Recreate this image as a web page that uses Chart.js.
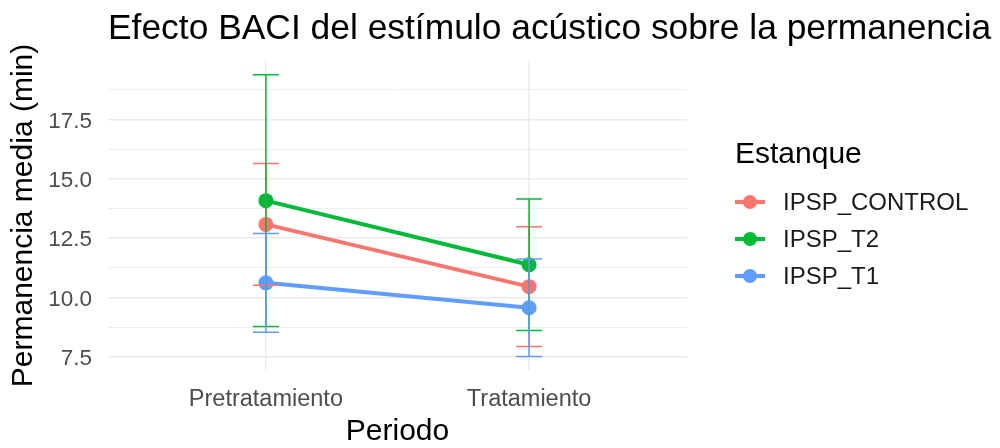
<!DOCTYPE html>
<html>
<head>
<meta charset="utf-8">
<script src="https://cdn.jsdelivr.net/npm/chart.js@4.4.0/dist/chart.umd.min.js"></script>
<style>
  body { margin: 0; background: #fff; }
  canvas { display: block; }
</style>
</head>
<body>
<canvas id="myChart" width="1000" height="448"></canvas>
<script>
// Datos
const periodos = ['Pretratamiento', 'Tratamiento'];
const estanques = ['IPSP_CONTROL', 'IPSP_T2', 'IPSP_T1'];
const mediaControl = [13.08, 10.46];
const mediaT2 = [14.08, 11.38];
const mediaT1 = [10.62, 9.57];
const errorControl = [2.56, 2.52];
const errorT2 = [5.30, 2.77];
const errorT1 = [2.08, 2.05];
const yMayores = [7.5, 10, 12.5, 15, 17.5];
const yMenores = [8.75, 11.25, 13.75, 16.25, 18.75];

const colores = ['#F8766D', '#00BA38', '#619CFF'];
const medias = [mediaControl, mediaT2, mediaT1];
const errores = [errorControl, errorT2, errorT1];
const titulo = 'Efecto BACI del estímulo acústico sobre la permanencia';
const FUENTE = '"Liberation Sans", Arial, sans-serif';

Chart.defaults.font.family = FUENTE;
Chart.defaults.animation = false;

// Barras de error (media ± error)
const barrasError = {
    id: 'barrasError',
    afterDatasetsDraw(chart) {
        const ctx = chart.ctx;
        const xs = chart.scales.x, ys = chart.scales.y;
        ctx.save();
        ctx.lineWidth = 1.5;
        medias.forEach((serie, d) => {
            ctx.strokeStyle = colores[d];
            serie.forEach((m, i) => {
                const x = xs.getPixelForValue(i + 1);
                const y1 = ys.getPixelForValue(m + errores[d][i]);
                const y0 = ys.getPixelForValue(m - errores[d][i]);
                ctx.beginPath();
                ctx.moveTo(x, y1); ctx.lineTo(x, y0);
                ctx.moveTo(x - 13, y1); ctx.lineTo(x + 13, y1);
                ctx.moveTo(x - 13, y0); ctx.lineTo(x + 13, y0);
                ctx.stroke();
            });
        });
        ctx.restore();
    }
};

// Título y leyenda
const textos = {
    id: 'textos',
    afterDraw(chart) {
        const ctx = chart.ctx;
        ctx.save();
        ctx.fillStyle = '#000';
        ctx.textBaseline = 'alphabetic';
        ctx.textAlign = 'left';
        ctx.font = '35.4px ' + FUENTE;
        ctx.fillText(titulo, 108, 39);

        ctx.font = '30px ' + FUENTE;
        ctx.fillText('Estanque', 735, 163);

        ctx.font = '24px ' + FUENTE;
        ctx.textBaseline = 'middle';
        estanques.forEach((nombre, i) => {
            const y = 202 + i * 37;
            ctx.strokeStyle = colores[i];
            ctx.fillStyle = colores[i];
            ctx.lineWidth = 4;
            ctx.beginPath();
            ctx.moveTo(735, y); ctx.lineTo(765, y);
            ctx.stroke();
            ctx.beginPath();
            ctx.arc(750, y, 7, 0, Math.PI * 2);
            ctx.fill();
            ctx.fillStyle = '#1A1A1A';
            ctx.fillText(nombre, 783, y + 1);
        });
        ctx.restore();
    }
};

const ctx = document.getElementById('myChart').getContext('2d');
new Chart(ctx, {
    type: 'line',
    data: {
        datasets: estanques.map((nombre, d) => ({
            label: nombre,
            data: medias[d].map((v, i) => ({ x: i + 1, y: v })),
            borderColor: colores[d],
            backgroundColor: colores[d],
            pointBackgroundColor: colores[d],
            borderWidth: 4,
            pointRadius: 7.5,
            pointBorderWidth: 0,
            tension: 0,
            order: -d
        }))
    },
    options: {
        responsive: false,
        layout: { padding: { top: 61, right: 313, left: 0, bottom: 0 } },
        plugins: { legend: { display: false }, tooltip: { enabled: false } },
        scales: {
            x: {
                type: 'linear',
                min: 0.4,
                max: 2.6,
                afterBuildTicks: s => { s.ticks = periodos.map((p, i) => ({ value: i + 1 })); },
                afterFit: s => { s.height = 78; },
                ticks: {
                    callback: v => periodos[v - 1],
                    font: { size: 23.5 },
                    color: '#4D4D4D',
                    padding: 15,
                    maxRotation: 0,
                    autoSkip: false
                },
                grid: { color: '#EBEBEB', lineWidth: 1.4, drawTicks: false },
                border: { display: false },
                title: {
                    display: true,
                    text: 'Periodo',
                    font: { size: 30 },
                    color: '#000',
                    padding: { top: 0, bottom: -2 }
                }
            },
            y: {
                min: 6.95,
                max: 19.96,
                afterBuildTicks: s => {
                    s.ticks = yMayores.concat(yMenores).sort((a, b) => a - b).map(v => ({ value: v }));
                },
                afterFit: s => { s.width = 108; },
                ticks: {
                    callback: v => yMayores.includes(v) ? v.toFixed(1) : '',
                    font: { size: 22.5 },
                    color: '#4D4D4D',
                    padding: 16,
                    labelOffset: 2,
                    autoSkip: false
                },
                grid: {
                    color: '#EBEBEB',
                    lineWidth: c => (c.tick && yMenores.includes(c.tick.value)) ? 0.9 : 1.4,
                    drawTicks: false
                },
                border: { display: false },
                title: {
                    display: true,
                    text: 'Permanencia media (min)',
                    font: { size: 30 },
                    color: '#000',
                    padding: { top: 6, bottom: 0 }
                }
            }
        }
    },
    plugins: [barrasError, textos]
});
</script>
</body>
</html>
